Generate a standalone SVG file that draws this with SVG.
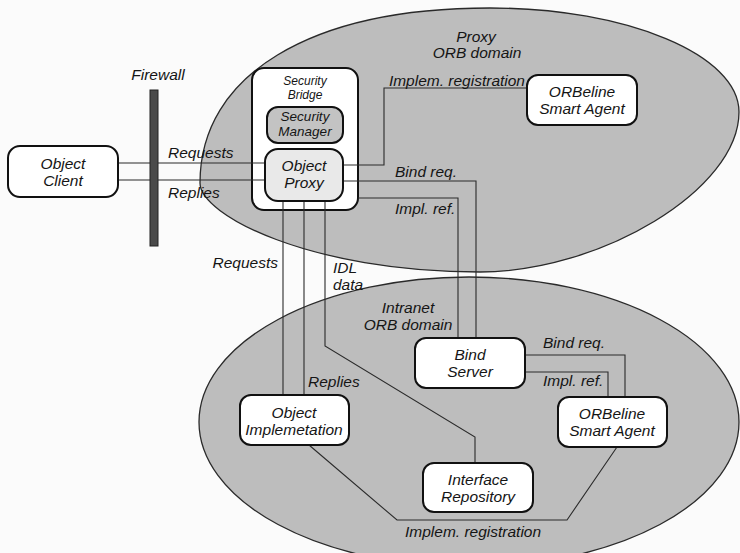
<svg xmlns="http://www.w3.org/2000/svg" width="740" height="553" viewBox="0 0 740 553">
  <style>
    text { font-family: "Liberation Sans", Arial, sans-serif; font-style: italic; font-size: 15.5px; fill: #151515; }
    .mid { text-anchor: middle; }
    .end { text-anchor: end; }
    .small { font-size: 12px; }
    .sm2 { font-size: 13.5px; }
    .domain { fill: #bdbdbd; stroke: #2a2a2a; stroke-width: 1.3; }
    .box { fill: #ffffff; stroke: #111; stroke-width: 2; }
    .boxgray { fill: #c3c3c3; stroke: #111; stroke-width: 2; }
    .boxlight { fill: #e9e9e9; stroke: #111; stroke-width: 2; }
    .wire { fill: none; stroke: #2b2b2b; stroke-width: 1.1; }
  </style>

  <rect x="0" y="0" width="740" height="553" fill="#fbfbfb"/>

  <!-- ORB domains -->
  <g id="proxy-domain">
    <path class="domain" d="M200,183 C200,75 310,8 490,8 C627,8 739,55 739,112 C739,190 600,272 480,272 C310,272 200,215 200,183 Z"/>
    <text class="mid" x="476" y="42">Proxy</text>
    <text class="mid" x="477" y="58">ORB domain</text>
  </g>
  <g id="intranet-domain">
    <ellipse class="domain" cx="469" cy="422" rx="270" ry="145"/>
    <text class="mid" x="408" y="313">Intranet</text>
    <text class="mid" x="408" y="330">ORB domain</text>
  </g>

  <!-- container for the proxy, drawn beneath the wires -->
  <g id="security-bridge">
    <rect class="box" x="252" y="68" width="106" height="142" rx="12"/>
    <text class="mid small" x="305" y="85">Security</text>
    <text class="mid small" x="305" y="99">Bridge</text>
  </g>

  <!-- connectors -->
  <g id="connectors">
    <path class="wire" d="M118,163 H265"/>
    <path class="wire" d="M118,180 H265"/>
    <path class="wire" d="M343,165 H384 V88 H527"/>
    <path class="wire" d="M343,181 H476 V338"/>
    <path class="wire" d="M358,198 H458 V338"/>
    <path class="wire" d="M283,201 V395"/>
    <path class="wire" d="M304,201 V395"/>
    <path class="wire" d="M325,201 V346 L475,437 V463"/>
    <path class="wire" d="M525,355 H625 V397"/>
    <path class="wire" d="M525,372 H608 V397"/>
    <path class="wire" d="M309,445 L397,520 H567 L617,447"/>

    <text x="168" y="158">Requests</text>
    <text x="168" y="198">Replies</text>
    <text class="end" x="525" y="86">Implem. registration</text>
    <text x="395" y="177">Bind req.</text>
    <text x="395" y="214">Impl. ref.</text>
    <text class="end" x="278" y="268">Requests</text>
    <text x="333" y="273">IDL</text>
    <text x="333" y="290">data</text>
    <text x="308" y="387">Replies</text>
    <text x="543" y="348">Bind req.</text>
    <text x="543" y="386">Impl. ref.</text>
    <text x="405" y="537">Implem. registration</text>
  </g>

  <!-- nodes -->
  <g id="firewall">
    <rect x="150" y="90" width="8" height="156" fill="#4a4a4a" stroke="#222" stroke-width="1"/>
    <text class="mid" x="158" y="80">Firewall</text>
  </g>

  <g id="object-client">
    <rect class="box" x="8" y="146" width="110" height="51" rx="12"/>
    <text class="mid" x="63" y="169">Object</text>
    <text class="mid" x="63" y="186">Client</text>
  </g>

  <g id="security-manager">
    <rect class="boxgray" x="267" y="107" width="76" height="36" rx="11"/>
    <text class="mid sm2" x="305" y="121">Security</text>
    <text class="mid sm2" x="305" y="136">Manager</text>
  </g>

  <g id="object-proxy">
    <rect class="boxlight" x="265" y="149" width="78" height="52" rx="13"/>
    <text class="mid" x="304" y="171">Object</text>
    <text class="mid" x="304" y="188">Proxy</text>
  </g>

  <g id="smart-agent-proxy">
    <rect class="box" x="527" y="75" width="110" height="50" rx="11"/>
    <text class="mid" x="582" y="97">ORBeline</text>
    <text class="mid" x="582" y="114">Smart Agent</text>
  </g>

  <g id="bind-server">
    <rect class="box" x="415" y="338" width="110" height="50" rx="11"/>
    <text class="mid" x="470" y="360">Bind</text>
    <text class="mid" x="470" y="377">Server</text>
  </g>

  <g id="smart-agent-intranet">
    <rect class="box" x="558" y="397" width="109" height="50" rx="11"/>
    <text class="mid" x="612" y="419">ORBeline</text>
    <text class="mid" x="612" y="436">Smart Agent</text>
  </g>

  <g id="object-implementation">
    <rect class="box" x="240" y="395" width="109" height="50" rx="11"/>
    <text class="mid" x="294" y="418">Object</text>
    <text class="mid" x="294" y="435">Implemetation</text>
  </g>

  <g id="interface-repository">
    <rect class="box" x="423" y="463" width="110" height="49" rx="11"/>
    <text class="mid" x="478" y="485">Interface</text>
    <text class="mid" x="478" y="502">Repository</text>
  </g>
</svg>
